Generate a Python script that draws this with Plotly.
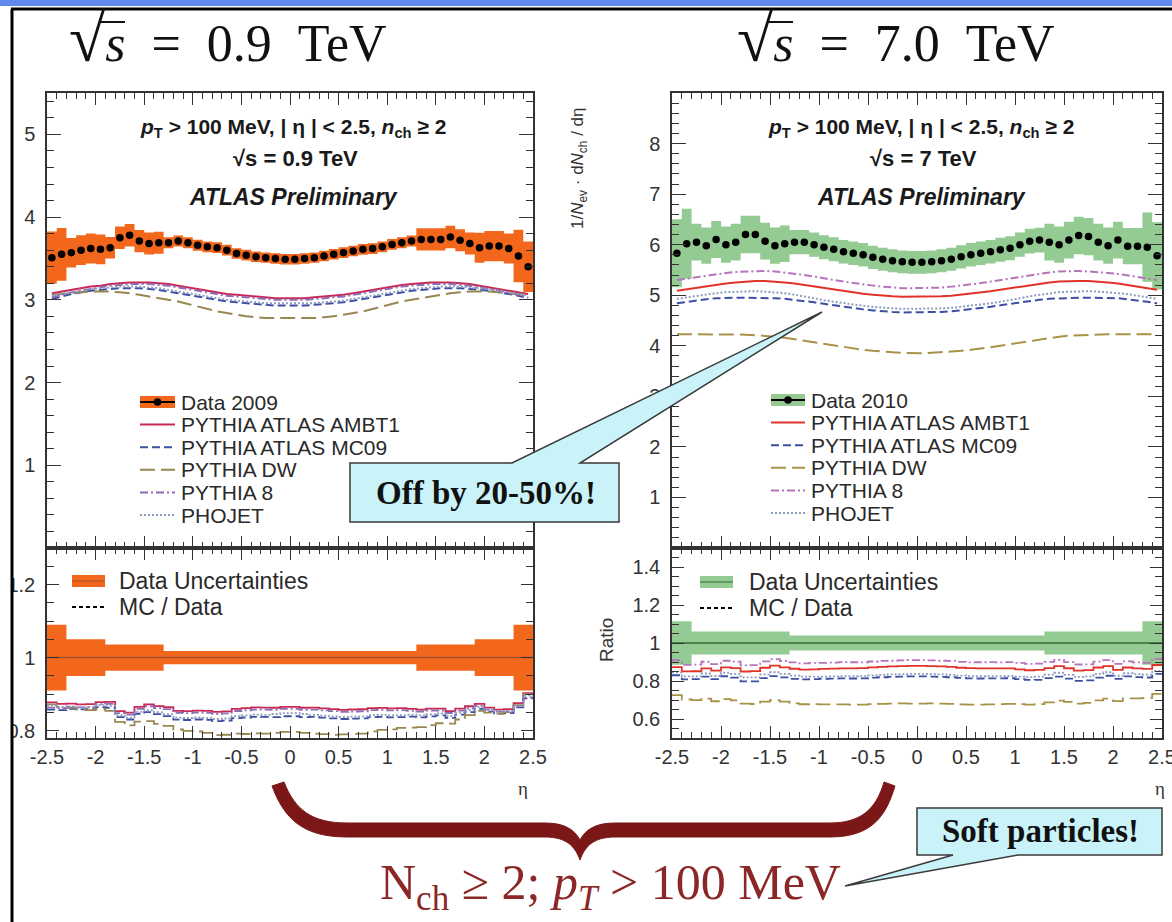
import numpy as np
import plotly.graph_objects as go

W, H = 1172, 922


def P(x):
    return x / W


def Q(y):
    return 1 - y / H


# ---------------- data ----------------
eta_edges = np.round(np.linspace(-2.5, 2.5, 51), 2)
eta = np.round((eta_edges[:-1] + eta_edges[1:]) / 2, 3)

data_09 = [3.51, 3.55, 3.57, 3.60, 3.62, 3.61, 3.63, 3.75, 3.78, 3.71,
           3.68, 3.69, 3.69, 3.71, 3.69, 3.66, 3.64, 3.63, 3.60, 3.56,
           3.54, 3.52, 3.51, 3.50, 3.49, 3.49, 3.50, 3.51, 3.53, 3.55,
           3.57, 3.59, 3.61, 3.62, 3.64, 3.67, 3.69, 3.71, 3.73, 3.73,
           3.73, 3.76, 3.72, 3.68, 3.63, 3.65, 3.65, 3.62, 3.53, 3.40]

data_7 = [5.83, 6.02, 6.05, 5.98, 6.10, 6.00, 6.05, 6.20, 6.20, 6.07,
          5.98, 6.02, 6.05, 6.05, 6.00, 5.95, 5.91, 5.86, 5.83, 5.80,
          5.75, 5.71, 5.68, 5.66, 5.65, 5.65, 5.66, 5.68, 5.71, 5.76,
          5.80, 5.83, 5.86, 5.90, 5.93, 6.00, 6.07, 6.09, 6.05, 6.00,
          6.09, 6.18, 6.16, 6.05, 5.98, 6.09, 5.97, 5.97, 5.95, 5.78]

ambt1_09 = [3.08, 3.10, 3.12, 3.14, 3.16, 3.17, 3.19, 3.20, 3.21, 3.21, 3.21, 3.20, 3.19, 3.17, 3.15, 3.13, 3.11, 3.09, 3.07, 3.06, 3.05, 3.04, 3.03, 3.02, 3.02,
            3.02, 3.02, 3.03, 3.04, 3.05, 3.06, 3.08, 3.10, 3.12, 3.14, 3.16, 3.18, 3.19, 3.20, 3.21, 3.21, 3.21, 3.20, 3.19, 3.17, 3.15, 3.13, 3.11, 3.09, 3.07]
mc09_09 = [3.01, 3.04, 3.07, 3.09, 3.11, 3.12, 3.13, 3.14, 3.14, 3.14, 3.13, 3.12, 3.10, 3.08, 3.06, 3.04, 3.02, 3.00, 2.98, 2.97, 2.96, 2.95, 2.94, 2.93, 2.93,
           2.93, 2.93, 2.94, 2.95, 2.96, 2.97, 2.99, 3.01, 3.03, 3.05, 3.07, 3.09, 3.11, 3.12, 3.13, 3.14, 3.14, 3.14, 3.13, 3.12, 3.11, 3.09, 3.07, 3.05, 3.02]
dw_09 = [3.06, 3.07, 3.08, 3.09, 3.10, 3.10, 3.10, 3.09, 3.08, 3.06, 3.04, 3.02, 3.00, 2.98, 2.95, 2.92, 2.89, 2.86, 2.84, 2.82, 2.80, 2.79, 2.78, 2.78, 2.78,
         2.78, 2.78, 2.78, 2.79, 2.80, 2.82, 2.84, 2.86, 2.89, 2.92, 2.95, 2.98, 3.00, 3.02, 3.04, 3.06, 3.08, 3.09, 3.10, 3.10, 3.10, 3.09, 3.08, 3.07, 3.06]
py8_09 = [3.03, 3.06, 3.09, 3.11, 3.13, 3.15, 3.17, 3.18, 3.19, 3.19, 3.19, 3.18, 3.17, 3.15, 3.13, 3.11, 3.09, 3.07, 3.05, 3.04, 3.03, 3.02, 3.01, 3.00, 3.00,
          3.00, 3.00, 3.01, 3.02, 3.03, 3.04, 3.06, 3.08, 3.10, 3.12, 3.14, 3.16, 3.17, 3.18, 3.19, 3.19, 3.19, 3.18, 3.17, 3.15, 3.13, 3.11, 3.09, 3.06, 3.03]
phojet_09 = [3.05, 3.07, 3.09, 3.11, 3.13, 3.14, 3.15, 3.16, 3.16, 3.16, 3.15, 3.14, 3.12, 3.10, 3.08, 3.06, 3.04, 3.02, 3.00, 2.99, 2.98, 2.97, 2.96, 2.96, 2.96,
             2.96, 2.96, 2.96, 2.97, 2.98, 2.99, 3.01, 3.03, 3.05, 3.07, 3.09, 3.11, 3.13, 3.14, 3.15, 3.16, 3.16, 3.16, 3.15, 3.14, 3.13, 3.11, 3.09, 3.07, 3.05]

ambt1_7 = [5.09, 5.12, 5.15, 5.18, 5.21, 5.23, 5.25, 5.27, 5.28, 5.28, 5.27, 5.25, 5.23, 5.20, 5.17, 5.14, 5.11, 5.08, 5.05, 5.03, 5.01, 4.99, 4.98, 4.97, 4.97,
           4.97, 4.97, 4.98, 4.99, 5.01, 5.03, 5.05, 5.08, 5.11, 5.14, 5.17, 5.20, 5.23, 5.25, 5.27, 5.28, 5.28, 5.28, 5.27, 5.25, 5.23, 5.20, 5.17, 5.14, 5.11]
py8_7 = [5.30, 5.33, 5.36, 5.39, 5.42, 5.44, 5.46, 5.47, 5.48, 5.48, 5.47, 5.45, 5.43, 5.40, 5.37, 5.33, 5.30, 5.27, 5.24, 5.21, 5.19, 5.17, 5.15, 5.14, 5.14,
         5.14, 5.14, 5.15, 5.17, 5.19, 5.21, 5.24, 5.27, 5.30, 5.33, 5.37, 5.40, 5.43, 5.45, 5.47, 5.48, 5.48, 5.47, 5.46, 5.44, 5.42, 5.39, 5.36, 5.33, 5.30]
phojet_7 = [4.93, 4.96, 4.99, 5.02, 5.04, 5.06, 5.07, 5.08, 5.08, 5.07, 5.06, 5.04, 5.01, 4.98, 4.94, 4.90, 4.87, 4.84, 4.81, 4.79, 4.77, 4.75, 4.74, 4.73, 4.73,
            4.73, 4.73, 4.74, 4.75, 4.77, 4.79, 4.81, 4.84, 4.87, 4.90, 4.94, 4.98, 5.01, 5.04, 5.06, 5.07, 5.08, 5.08, 5.07, 5.06, 5.04, 5.02, 4.99, 4.96, 4.93]
mc09_7 = [4.84, 4.87, 4.90, 4.92, 4.94, 4.95, 4.95, 4.95, 4.95, 4.95, 4.94, 4.93, 4.91, 4.89, 4.86, 4.83, 4.80, 4.77, 4.74, 4.72, 4.70, 4.68, 4.67, 4.66, 4.66,
          4.66, 4.66, 4.67, 4.68, 4.70, 4.72, 4.74, 4.77, 4.80, 4.83, 4.86, 4.89, 4.91, 4.93, 4.94, 4.95, 4.95, 4.95, 4.95, 4.95, 4.94, 4.92, 4.90, 4.87, 4.84]
dw_7 = [4.23, 4.23, 4.23, 4.23, 4.23, 4.23, 4.22, 4.22, 4.21, 4.20, 4.18, 4.16, 4.13, 4.10, 4.07, 4.03, 4.00, 3.97, 3.94, 3.92, 3.90, 3.88, 3.87, 3.86, 3.85,
        3.85, 3.86, 3.87, 3.88, 3.90, 3.92, 3.94, 3.97, 4.00, 4.03, 4.07, 4.10, 4.13, 4.16, 4.18, 4.20, 4.21, 4.22, 4.22, 4.23, 4.23, 4.23, 4.23, 4.23, 4.23]

# relative data uncertainty, given by eta regions
unc_regions_09 = [-2.5, -2.3, -1.9, -1.3, 1.3, 1.9, 2.3, 2.5]
unc_values_09 = [0.09, 0.05, 0.036, 0.018, 0.036, 0.05, 0.09]
unc_regions_7 = [-2.5, -2.3, -1.3, 1.3, 2.3, 2.5]
unc_values_7 = [0.115, 0.06, 0.04, 0.06, 0.115]

x_tick_vals = [-2.5, -2, -1.5, -1, -0.5, 0, 0.5, 1, 1.5, 2, 2.5]
x_tick_text = ["-2.5", "-2", "-1.5", "-1", "-0.5", "0", "0.5", "1", "1.5", "2", "2.5"]
y09_ticks = [1, 2, 3, 4, 5]
y7_ticks = [1, 2, 3, 4, 5, 6, 7, 8]
r09_ticks = [0.8, 1, 1.2]
r09_text = ["0.8", "1", "1.2"]
r7_ticks = [0.6, 0.8, 1, 1.2, 1.4]
r7_text = ["0.6", "0.8", "1", "1.2", "1.4"]

mc_names = ["PYTHIA ATLAS AMBT1", "PYTHIA ATLAS MC09", "PYTHIA DW", "PYTHIA 8", "PHOJET"]
mc_09 = [ambt1_09, mc09_09, dw_09, py8_09, phojet_09]
mc_7 = [ambt1_7, mc09_7, dw_7, py8_7, phojet_7]
colors_09 = ["#c92a55", "#3c4fa3", "#9a8650", "#8d6db4", "#8f9cc2"]
colors_7 = ["#e2332b", "#3c4fa3", "#a89248", "#b774bb", "#8f9cc2"]
dashes = ["solid", "8px,4px", "15px,6px", "8px,3px,2px,3px", "2px,2px"]

ORANGE = "#f3671c"
GREEN = "#93cb93"

fig = go.Figure()


def rel_by_bin(regions, values):
    out = []
    for c in eta:
        for i in range(len(values)):
            if regions[i] <= c < regions[i + 1]:
                out.append(values[i])
                break
    return np.array(out)


def step(v):
    v = list(v)
    return v + [v[-1]]


def add_panel(xa, ya, xr, yr, data, mcs, colors, unc, band_color, data_label, centre_col):
    data = np.array(data)
    lo = data * (1 - unc)
    hi = data * (1 + unc)
    fig.add_trace(go.Scatter(x=eta_edges, y=step(lo), mode="lines", line=dict(width=0, shape="hv"),
                             xaxis=xa, yaxis=ya, hoverinfo="skip"))
    fig.add_trace(go.Scatter(x=eta_edges, y=step(hi), mode="lines", line=dict(width=0, shape="hv"),
                             fill="tonexty", fillcolor=band_color, xaxis=xa, yaxis=ya, hoverinfo="skip"))
    for name, mc, col, dsh in zip(mc_names, mcs, colors, dashes):
        fig.add_trace(go.Scatter(x=eta, y=mc, mode="lines", name=name,
                                 line=dict(color=col, width=2, dash=dsh), xaxis=xa, yaxis=ya))
    fig.add_trace(go.Scatter(x=eta, y=data, mode="markers", marker=dict(color="black", size=7.5),
                             xaxis=xa, yaxis=ya, name=data_label))
    # ratio panel
    fig.add_trace(go.Scatter(x=eta_edges, y=step(1 - unc), mode="lines", line=dict(width=0, shape="hv"),
                             xaxis=xr, yaxis=yr, hoverinfo="skip"))
    fig.add_trace(go.Scatter(x=eta_edges, y=step(1 + unc), mode="lines", line=dict(width=0, shape="hv"),
                             fill="tonexty", fillcolor=band_color, xaxis=xr, yaxis=yr, hoverinfo="skip"))
    fig.add_trace(go.Scatter(x=[-2.5, 2.5], y=[1, 1], mode="lines", line=dict(color=centre_col, width=1.5),
                             xaxis=xr, yaxis=yr, hoverinfo="skip"))
    for name, mc, col, dsh in zip(mc_names, mcs, colors, dashes):
        ratio = np.array(mc) / data
        fig.add_trace(go.Scatter(x=eta_edges, y=step(ratio), mode="lines", name=name + " / Data",
                                 line=dict(color=col, width=1.8, dash=dsh, shape="hv"),
                                 xaxis=xr, yaxis=yr))


add_panel("x", "y", "x3", "y3", data_09, mc_09, colors_09, rel_by_bin(unc_regions_09, unc_values_09),
          ORANGE, "Data 2009", "#a0522d")
add_panel("x2", "y2", "x4", "y4", data_7, mc_7, colors_7, rel_by_bin(unc_regions_7, unc_values_7),
          GREEN, "Data 2010", "#2e6e2e")

AX = "#333333"
tickfont = dict(family="Liberation Sans", size=20, color="#333")


def xaxis(domain, anchor, labels):
    return dict(domain=domain, anchor=anchor, range=[-2.5, 2.5], showline=True, linecolor=AX, linewidth=1.5,
                mirror="ticks", ticks="inside", ticklen=12, tickwidth=1.2, tickcolor=AX, automargin=False,
                tickvals=x_tick_vals, ticktext=x_tick_text, showticklabels=labels, tickfont=tickfont,
                ticklabeloverflow="allow", showgrid=False, zeroline=False, fixedrange=True,
                minor=dict(ticks="inside", ticklen=6, tickcolor=AX, tickmode="linear", tick0=-2.5, dtick=0.1,
                           showgrid=False))


def yaxis(domain, anchor, rng, tv, tt, mdt, tlen=14):
    return dict(domain=domain, anchor=anchor, range=rng, showline=True, linecolor=AX, linewidth=1.5,
                mirror="ticks", ticks="inside", ticklen=tlen, tickwidth=1.2, tickcolor=AX, automargin=False,
                tickvals=tv, ticktext=tt, tickfont=tickfont, ticklabelstandoff=6, ticklabeloverflow="allow",
                showgrid=False, zeroline=False, fixedrange=True,
                minor=dict(ticks="inside", ticklen=7, tickcolor=AX, tickmode="linear", tick0=0, dtick=mdt,
                           showgrid=False))


XL = [P(47), P(533)]
XR = [P(672), P(1162)]
YU = [Q(548), Q(93)]
YD = [Q(738), Q(548)]

fig.update_layout(
    width=W, height=H, margin=dict(l=0, r=0, t=0, b=0, autoexpand=False),
    paper_bgcolor="white", plot_bgcolor="white", showlegend=False,
    font=dict(family="Liberation Sans", color="#333"),
    xaxis=xaxis(XL, "y", False), xaxis2=xaxis(XR, "y2", False),
    xaxis3=xaxis(XL, "y3", True), xaxis4=xaxis(XR, "y4", True),
    yaxis=yaxis(YU, "x", [0, 5.5], y09_ticks, [str(v) for v in y09_ticks], 0.2),
    yaxis2=yaxis(YU, "x2", [0, 9], y7_ticks, [str(v) for v in y7_ticks], 0.2),
    yaxis3=yaxis(YD, "x3", [0.78, 1.3], r09_ticks, r09_text, 0.05, 12),
    yaxis4=yaxis(YD, "x4", [0.5, 1.5], r7_ticks, r7_text, 0.05, 12),
)


def pth(cmds):
    out = []
    for c in cmds:
        k, nums = c[0], c[1:]
        pts = [f"{P(nums[i]):.5f},{Q(nums[i + 1]):.5f}" for i in range(0, len(nums), 2)]
        out.append(k + " " + " ".join(pts))
    return " ".join(out)


shapes = []
ann = []


def text(x, y, s, size, family="Liberation Sans", color="#1a1a1a", angle=0, xanchor="center"):
    ann.append(dict(x=P(x), y=Q(y), xref="paper", yref="paper", text=s, showarrow=False,
                    font=dict(size=size, family=family, color=color), textangle=angle,
                    xanchor=xanchor, yanchor="middle"))


def hline(x0, x1, y, color, width, dash="solid"):
    shapes.append(dict(type="line", xref="paper", yref="paper", x0=P(x0), x1=P(x1), y0=Q(y), y1=Q(y),
                       line=dict(color=color, width=width, dash=dash), layer="above"))


def rect(x0, x1, y0, y1, color):
    shapes.append(dict(type="rect", xref="paper", yref="paper", x0=P(x0), x1=P(x1), y0=Q(y1), y1=Q(y0),
                       fillcolor=color, line=dict(width=0), layer="above"))


# slide decoration
rect(0, W, 0, 6, "#6189ee")
rect(0, 11, 6, H, "white")
hline(11, W, 9, "black", 3)
shapes.append(dict(type="line", xref="paper", yref="paper", x0=P(12), x1=P(12), y0=0, y1=Q(9),
                   line=dict(color="black", width=3), layer="above"))


# legends (drawn keys + text)
def upper_legend(kx0, kx1, tx, y0, dy, band_color, data_label, colors):
    rect(kx0, kx1, y0 - 6, y0 + 6, band_color)
    hline(kx0, kx1, y0, "black", 2)
    cx = (kx0 + kx1) / 2
    shapes.append(dict(type="circle", xref="paper", yref="paper", x0=P(cx - 3.8), x1=P(cx + 3.8),
                       y0=Q(y0 + 3.8), y1=Q(y0 - 3.8), fillcolor="black", line=dict(width=0), layer="above"))
    text(tx, y0, data_label, 21, color="#2a2a2a", xanchor="left")
    for i, (name, col, dsh) in enumerate(zip(mc_names, colors, dashes)):
        y = y0 + dy * (i + 1)
        hline(kx0, kx1, y, col, 2, dsh)
        text(tx, y, name, 21, color="#2a2a2a", xanchor="left")


upper_legend(140, 175, 179, 402, 22.6, ORANGE, "Data 2009", colors_09)
upper_legend(771, 805, 809, 400, 22.6, GREEN, "Data 2010", colors_7)


def lower_legend(kx0, kx1, tx, y0, dy, band_color, centre_col):
    rect(kx0, kx1, y0 - 6, y0 + 6, band_color)
    hline(kx0, kx1, y0, centre_col, 1)
    text(tx, y0, "Data Uncertainties", 23, color="#2a2a2a", xanchor="left")
    hline(kx0, kx1, y0 + dy, "black", 2, "4px,3px")
    text(tx, y0 + dy, "MC / Data", 23, color="#2a2a2a", xanchor="left")


lower_legend(72, 105, 117, 581, 26, ORANGE, "#a0522d")
lower_legend(700, 733, 747, 582, 26, GREEN, "#2e6e2e")

# curly brace
brace = [("M", 272, 786), ("C", 284, 818, 302, 837, 347, 837), ("L", 545, 837),
         ("C", 566, 837, 575, 846, 580, 860), ("C", 585, 846, 594, 837, 615, 837), ("L", 830, 837),
         ("C", 872, 837, 886, 816, 895, 786), ("L", 884, 782),
         ("C", 876, 810, 860, 823, 830, 823), ("L", 615, 823),
         ("C", 596, 823, 586, 829, 580, 840), ("C", 574, 829, 564, 823, 545, 823), ("L", 347, 823),
         ("C", 312, 823, 295, 810, 284, 782), ("Z",)]
shapes.append(dict(type="path", xref="paper", yref="paper", path=pth(brace),
                   fillcolor="#7c1717", line=dict(color="#7c1717", width=1), layer="above"))
# callouts
call1 = [("M", 350, 463), ("L", 512, 463), ("L", 822, 312), ("L", 580, 463), ("L", 619, 463),
         ("L", 619, 522), ("L", 350, 522), ("Z",)]
shapes.append(dict(type="path", xref="paper", yref="paper", path=pth(call1),
                   fillcolor="#c9f3f8", line=dict(color="#3a3a3a", width=1.5), layer="above"))
call2 = [("M", 917, 808), ("L", 1162, 808), ("L", 1162, 855), ("L", 1018, 855), ("L", 845, 886),
         ("L", 953, 855), ("L", 917, 855), ("Z",)]
shapes.append(dict(type="path", xref="paper", yref="paper", path=pth(call2),
                   fillcolor="#c9f3f8", line=dict(color="#3a3a3a", width=1.5), layer="above"))

# radical bars over "s" in the big titles
for dx in (0, 668):
    hline(99 + dx, 125 + dx, 22, "#111", 2)

# titles
big = "<span style='font-size:66px'>√</span><i>s</i>\u2002=\u2002{}\u2002TeV"
text(67, 38, big.format("0.9"), 52, "Liberation Serif", "#111", xanchor="left")
text(735, 38, big.format("7.0"), 52, "Liberation Serif", "#111", xanchor="left")
for cx, roots in [(293, "0.9"), (921, "7")]:
    text(cx, 128, "<b><i>p</i><sub>T</sub> > 100 MeV, | η | < 2.5, <i>n</i><sub>ch</sub> ≥ 2</b>", 21)
    text(cx + 2, 158, f"<b>√s = {roots} TeV</b>", 22)
    text(cx, 197, "<b><i>ATLAS Preliminary</i></b>", 23)
text(579, 168, "1/<i>N</i><sub>ev</sub> · d<i>N</i><sub>ch</sub> / dη", 17, color="#333", angle=-90)
text(606, 640, "Ratio", 19, color="#333", angle=-90)
text(523, 788, "η", 19, "Liberation Serif", "#333")
text(1160, 788, "η", 19, "Liberation Serif", "#333")
text(486, 493, "<b>Off by 20-50%!</b>", 33, "Liberation Serif", "#111")
text(1040, 831, "<b>Soft particles!</b>", 33, "Liberation Serif", "#111")
text(610, 886, "N<sub>ch</sub> ≥ 2; <i>p<sub>T</sub></i> > 100 MeV", 50, "Liberation Serif", "#8b2727")

fig.update_layout(shapes=shapes, annotations=ann)
fig.write_html("out.html")
